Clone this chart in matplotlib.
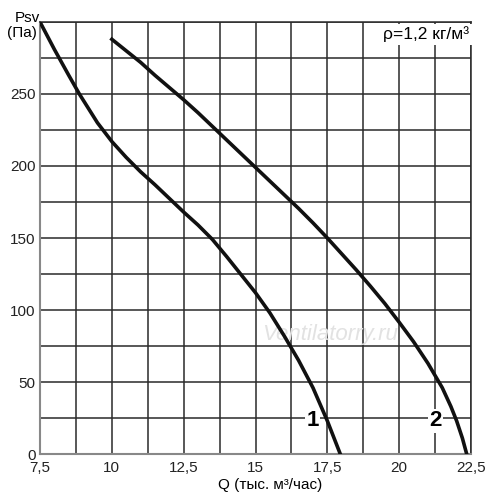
import matplotlib.pyplot as plt
import numpy as np

# curve 1 (Q thousand m3/h, Psv Pa)
q1 = [7.5, 8.0, 8.5, 8.87, 9.5, 10.0, 10.5, 11.0, 11.5, 12.0, 12.5, 13.0, 13.5,
      14.0, 14.5, 15.0, 15.5, 16.0, 16.5, 17.0, 17.5, 17.95]
p1 = [300, 281, 263, 250, 230, 217, 206, 196, 187, 177.5, 168, 159, 149,
      137, 124.5, 112, 98, 82, 65, 46, 23, 0]

# curve 2
q2 = [10.0, 10.5, 11.0, 11.5, 12.0, 12.5, 13.0, 13.5, 14.0, 14.5, 15.0, 15.5,
      16.0, 16.5, 17.0, 17.5, 18.0, 18.5, 19.0, 19.5, 20.0, 20.5, 21.0, 21.5,
      21.8, 22.0, 22.2, 22.35]
p2 = [288, 280, 272, 263, 254.5, 246, 237, 227.5, 218, 208.5, 199, 189.5,
      180, 170.5, 160.5, 150, 139, 128, 116.5, 104.5, 91.5, 78, 63, 46,
      33, 23, 11, 0]

xticks = [7.5, 10, 12.5, 15, 17.5, 20, 22.5]
xtick_labels = ['7,5', '10', '12,5', '15', '17,5', '20', '22,5']
yticks = [0, 50, 100, 150, 200, 250]

plt.rcParams['font.family'] = ['Liberation Sans', 'DejaVu Sans']

fig = plt.figure(figsize=(5, 5), dpi=100)
ax = fig.add_axes([0.08, 0.092, 0.862, 0.864])

ax.set_xlim(7.5, 22.5)
ax.set_ylim(0, 300)

# grid every 1.25 / 25
for x in np.arange(7.5, 22.51, 1.25):
    ax.axvline(x, color='#2a2a2a', lw=1.1, zorder=1)
for y in np.arange(0, 300.1, 25):
    ax.axhline(y, color='#2a2a2a', lw=1.1, zorder=1)

ax.plot(q1, p1, color='#111111', lw=2.6, zorder=4, solid_joinstyle='round')
ax.plot(q2, p2, color='#111111', lw=2.6, zorder=4, solid_joinstyle='round')

ax.set_xticks(xticks)
ax.set_xticklabels(xtick_labels)
ax.set_yticks(yticks)
ax.tick_params(axis='x', length=0, labelsize=11, colors='#222222', pad=5)
ax.tick_params(axis='y', length=0, labelsize=11, colors='#222222', pad=3)

for s in ['left', 'bottom']:
    ax.spines[s].set_color('#888888')
    ax.spines[s].set_linewidth(1.5)
for s in ['top', 'right']:
    ax.spines[s].set_color('#2a2a2a')
    ax.spines[s].set_linewidth(1.1)

bg = dict(facecolor='white', edgecolor='none', pad=1)
ax.text(17.0, 23, '1', fontsize=16, fontweight='bold', ha='center', va='center', bbox=bg, zorder=3)
ax.text(21.25, 23, '2', fontsize=16, fontweight='bold', ha='center', va='center', bbox=bg, zorder=3)
ax.text(22.45, 297, 'ρ=1,2 кг/м³', fontsize=12.5, ha='right', va='top',
        bbox=dict(facecolor='white', edgecolor='none', pad=2), zorder=3)
ax.text(17.6, 83, 'Ventilatorry.ru', fontsize=16, style='italic', color='#e2e2e2',
        ha='center', va='center', zorder=2)

fig.text(0.03, 0.965, 'Psv', fontsize=11, ha='left', va='center')
fig.text(0.015, 0.935, '(Пa)', fontsize=11, ha='left', va='center')
fig.text(0.54, 0.03, 'Q (тыс. м³/час)', fontsize=11, ha='center', va='center')

plt.savefig('out.png', dpi=100)
